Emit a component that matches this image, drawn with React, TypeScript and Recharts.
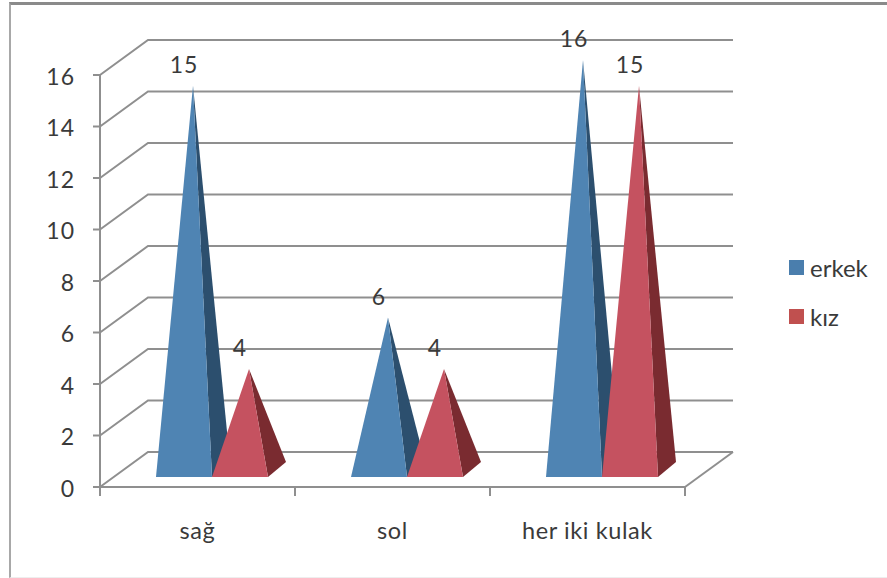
import { BarChart, Bar, XAxis, YAxis, Legend, CartesianGrid, LabelList, ReferenceLine } from "recharts";

const categories = ["sağ", "sol", "her iki kulak"];
const erkek = [15, 6, 16];
const kiz = [4, 4, 15];
const yTicks = [0, 2, 4, 6, 8, 10, 12, 14, 16];

const data = categories.map((name, i) => ({ name, erkek: erkek[i], kiz: kiz[i] }));

const FONT = "Lato, sans-serif";
const AXIS_COLOR = "#8f8f8f";
const TEXT_COLOR = "#3a3a3a";
// fake 3d: how far the back wall sits from the front axes
const WALL_DX = 48;
const WALL_DY = -35;
// where the pyramids stand on the floor, relative to the axes
const FLOOR_DX = 14;
const FLOOR_DY = -10;
const DEPTH_DX = 18;
const DEPTH_DY = -15;

const BLUE = { front: "#4f84b3", side: "#2c4f6e", legend: "#4a7ead" };
const RED = { front: "#c55260", side: "#7a2b30", legend: "#c0504f" };

function pyramid(colors: { front: string; side: string }) {
  return (props: any) => {
    const { x, y, width, height } = props;
    const left = x + FLOOR_DX;
    const right = left + width;
    const base = y + height + FLOOR_DY;
    const apexX = left + width / 2 + DEPTH_DX / 2;
    const apexY = y + FLOOR_DY + DEPTH_DY / 3;
    return (
      <g>
        <polygon
          points={`${right},${base} ${right + DEPTH_DX},${base + DEPTH_DY} ${apexX},${apexY}`}
          fill={colors.side}
        />
        <polygon points={`${left},${base} ${right},${base} ${apexX},${apexY}`} fill={colors.front} />
      </g>
    );
  };
}

function wallLine(props: any) {
  const { x1, x2, y1 } = props;
  return (
    <polyline
      points={`${x1},${y1} ${x1 + WALL_DX},${y1 + WALL_DY} ${x2 + WALL_DX},${y1 + WALL_DY}`}
      fill="none"
      stroke={AXIS_COLOR}
      strokeWidth={2}
    />
  );
}

function floorEdge(props: any) {
  const { x2, y1 } = props;
  const end = x2 ?? props.viewBox?.x + props.viewBox?.width;
  return (
    <line x1={end} y1={y1} x2={end + WALL_DX} y2={y1 + WALL_DY} stroke={AXIS_COLOR} strokeWidth={2} />
  );
}

function CategoryTick(props: any) {
  const { x, y, payload, width } = props;
  const band = width / categories.length;
  return (
    <g>
      <line x1={x - band / 2} y1={y - 8} x2={x - band / 2} y2={y + 1} stroke={AXIS_COLOR} strokeWidth={2} />
      <line x1={x + band / 2} y1={y - 8} x2={x + band / 2} y2={y + 1} stroke={AXIS_COLOR} strokeWidth={2} />
      <text
        x={x}
        y={y + 44}
        textAnchor="middle"
        fontFamily={FONT}
        fontSize={23.5}
        letterSpacing={0.6}
        fill={TEXT_COLOR}
      >
        {payload.value}
      </text>
    </g>
  );
}

function ValueTick(props: any) {
  const { x, y, payload } = props;
  return (
    <text
      x={x}
      y={y + 9.5}
      textAnchor="end"
      fontFamily={FONT}
      fontSize={23}
      letterSpacing={1}
      fill={TEXT_COLOR}
    >
      {payload.value}
    </text>
  );
}

function PeakLabel(props: any) {
  const { x, y, width, value } = props;
  return (
    <text
      x={x + width / 2 + FLOOR_DX}
      y={y - 37}
      textAnchor="middle"
      dominantBaseline="central"
      fontFamily={FONT}
      fontSize={23}
      letterSpacing={1}
      fill={TEXT_COLOR}
    >
      {value}
    </text>
  );
}

function LegendBox({ payload }: any) {
  return (
    <div style={{ fontFamily: FONT, fontSize: 24, color: TEXT_COLOR }}>
      {payload.map((item: any) => (
        <div key={item.value} style={{ display: "flex", alignItems: "center", height: 49 }}>
          <span style={{ width: 15, height: 15, background: item.color, marginRight: 6 }} />
          {item.value}
        </div>
      ))}
    </div>
  );
}

export default function App() {
  return (
    <div
      style={{
        position: "absolute",
        left: 0,
        top: 0,
        width: 887,
        height: 578,
        background: "#fff",
      }}
    >
      <div
        style={{
          position: "absolute",
          left: 9,
          top: 2,
          width: 878,
          height: 576,
          boxSizing: "border-box",
          borderTop: "3px solid #8a8a8a",
          borderLeft: "2px solid #a8a8a8",
          borderBottom: "1px solid #eeeeee",
        }}
      />
      <div style={{ position: "absolute", left: 0, top: 0 }}>
        <BarChart
          width={887}
          height={578}
          data={data}
          barSize={56}
          barGap={0}
          margin={{ left: 40, right: 202, top: 75, bottom: 51 }}
        >
          <CartesianGrid vertical={false} horizontal={wallLine} />
          <ReferenceLine y={0} stroke={AXIS_COLOR} shape={floorEdge} />
          <XAxis
            dataKey="name"
            height={40}
            interval={0}
            tickLine={false}
            axisLine={{ stroke: AXIS_COLOR, strokeWidth: 2 }}
            tick={<CategoryTick />}
          />
          <YAxis
            width={60}
            domain={[0, 16]}
            ticks={yTicks}
            interval={0}
            tickSize={7}
            tickMargin={18}
            axisLine={{ stroke: AXIS_COLOR, strokeWidth: 2 }}
            tickLine={{ stroke: AXIS_COLOR, strokeWidth: 2 }}
            tick={<ValueTick />}
          />
          <Legend
            layout="vertical"
            align="center"
            verticalAlign="middle"
            content={<LegendBox />}
            wrapperStyle={{ left: 789, top: 243, width: 98 }}
          />
          <Bar dataKey="erkek" name="erkek" fill={BLUE.legend} shape={pyramid(BLUE)} isAnimationActive={false}>
            <LabelList dataKey="erkek" content={<PeakLabel />} />
          </Bar>
          <Bar dataKey="kiz" name="kız" fill={RED.legend} shape={pyramid(RED)} isAnimationActive={false}>
            <LabelList dataKey="kiz" content={<PeakLabel />} />
          </Bar>
        </BarChart>
      </div>
    </div>
  );
}
